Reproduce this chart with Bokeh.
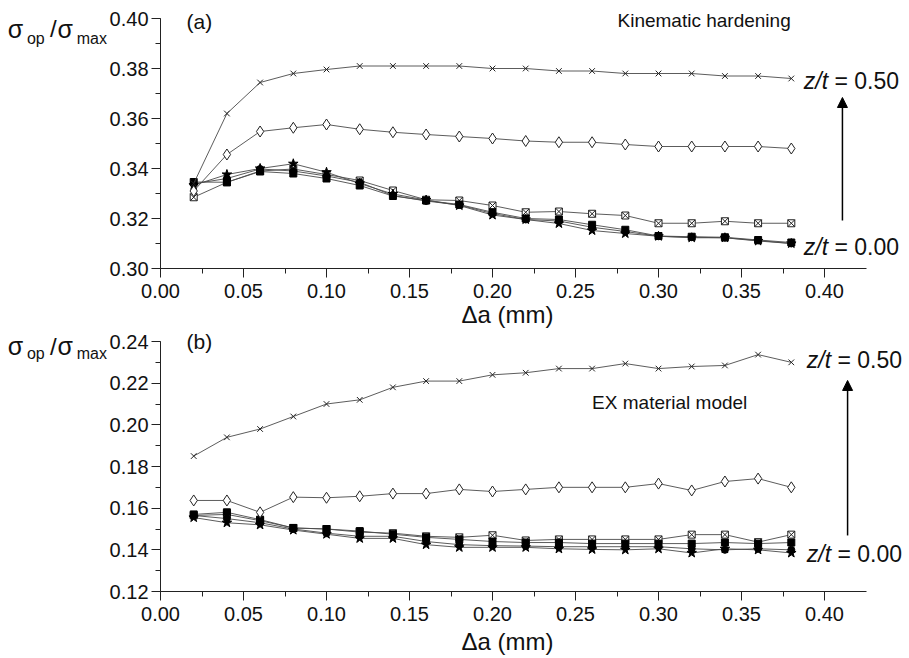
from bokeh.plotting import figure
from bokeh.models import (Range1d, Label, Arrow, NormalHead, SingleIntervalTicker,
                          PrintfTickFormatter)
from bokeh.layouts import column
from bokeh.embed import file_html
from bokeh.resources import INLINE

# ---------------- data ----------------
da = [0.02, 0.04, 0.06, 0.08, 0.10, 0.12, 0.14, 0.16, 0.18, 0.20,
      0.22, 0.24, 0.26, 0.28, 0.30, 0.32, 0.34, 0.36, 0.38]

# (a) Kinematic hardening
a_zt000 = [0.3346, 0.3345, 0.3388, 0.3380, 0.3360, 0.3332, 0.3290, 0.3272, 0.3256, 0.3225,
           0.3200, 0.3196, 0.3175, 0.3155, 0.3130, 0.3127, 0.3125, 0.3114, 0.3104]
a_zt010 = [0.3339, 0.3360, 0.3398, 0.3390, 0.3370, 0.3345, 0.3292, 0.3270, 0.3254, 0.3220,
           0.3196, 0.3190, 0.3165, 0.3148, 0.3129, 0.3125, 0.3123, 0.3112, 0.3100]
a_zt020 = [0.3333, 0.3376, 0.3400, 0.3419, 0.3385, 0.3340, 0.3298, 0.3274, 0.3252, 0.3214,
           0.3196, 0.3180, 0.3152, 0.3140, 0.3129, 0.3123, 0.3123, 0.3110, 0.3100]
a_zt030 = [0.3285, 0.3345, 0.3390, 0.3398, 0.3376, 0.3352, 0.3312, 0.3275, 0.3272, 0.3252,
           0.3225, 0.3228, 0.3219, 0.3212, 0.3181, 0.3181, 0.3189, 0.3181, 0.3181]
a_zt040 = [0.3310, 0.3456, 0.3548, 0.3563, 0.3576, 0.3557, 0.3545, 0.3536, 0.3528, 0.3520,
           0.3510, 0.3505, 0.3505, 0.3496, 0.3488, 0.3488, 0.3488, 0.3488, 0.3480]
a_zt050 = [0.3340, 0.3620, 0.3744, 0.3780, 0.3796, 0.3810, 0.3810, 0.3810, 0.3810, 0.3800,
           0.3800, 0.3790, 0.3790, 0.3780, 0.3780, 0.3780, 0.3770, 0.3770, 0.3760]

# (b) EX material model
b_zt000 = [0.1570, 0.1580, 0.1545, 0.1505, 0.1500, 0.1490, 0.1475, 0.1460, 0.1450, 0.1440,
           0.1435, 0.1435, 0.1430, 0.1430, 0.1430, 0.1430, 0.1435, 0.1430, 0.1435]
b_zt010 = [0.1565, 0.1550, 0.1530, 0.1500, 0.1480, 0.1465, 0.1465, 0.1440, 0.1425, 0.1420,
           0.1418, 0.1415, 0.1415, 0.1415, 0.1415, 0.1405, 0.1400, 0.1405, 0.1400]
b_zt020 = [0.1555, 0.1530, 0.1520, 0.1495, 0.1475, 0.1455, 0.1455, 0.1425, 0.1412, 0.1412,
           0.1412, 0.1405, 0.1402, 0.1400, 0.1405, 0.1385, 0.1405, 0.1400, 0.1385]
b_zt030 = [0.1565, 0.1570, 0.1540, 0.1505, 0.1500, 0.1485, 0.1480, 0.1465, 0.1460, 0.1470,
           0.1445, 0.1450, 0.1450, 0.1450, 0.1450, 0.1473, 0.1473, 0.1437, 0.1473]
b_zt040 = [0.1637, 0.1637, 0.1580, 0.1653, 0.1650, 0.1657, 0.1670, 0.1670, 0.1690, 0.1680,
           0.1690, 0.1700, 0.1700, 0.1700, 0.1718, 0.1685, 0.1728, 0.1742, 0.1700]
b_zt050 = [0.1850, 0.1940, 0.1980, 0.2040, 0.2100, 0.2120, 0.2180, 0.2210, 0.2210, 0.2240,
           0.2250, 0.2270, 0.2270, 0.2294, 0.2270, 0.2280, 0.2285, 0.2337, 0.2300]

x_ticks_step = 0.05
y_ticks_step = 0.02

# ---------------- styles ----------------
FONT = "Liberation Sans"
LINE_COLOR = "#4a4a4a"
styles = [
    dict(marker="square_x", size=7, fill_color="white", line_color="#222222"),
    dict(marker="star", size=10, fill_color="black", line_color="black"),
    dict(marker="circle", size=7, fill_color="black", line_color="black"),
    dict(marker="square", size=7, fill_color="black", line_color="black"),
    dict(marker="diamond", size=11, fill_color="white", line_color="#222222"),
    dict(marker="x", size=8, fill_color=None, line_color="#222222"),
]


def make_panel(height, y_lo, y_top, y0, y_end, series):
    p = figure(width=909, height=height,
               x_range=Range1d(-0.09639, 0.4512), y_range=Range1d(y_lo, y_top),
               output_backend="svg", toolbar_location=None,
               min_border_left=0, min_border_right=0, min_border_top=0,
               min_border_bottom=0)
    p.outline_line_color = None
    p.grid.visible = False
    p.background_fill_color = "white"
    p.border_fill_color = "white"

    p.xaxis.ticker = SingleIntervalTicker(interval=x_ticks_step, num_minor_ticks=2)
    p.yaxis.ticker = SingleIntervalTicker(interval=y_ticks_step, num_minor_ticks=2)
    p.xaxis.formatter = PrintfTickFormatter(format="%.2f")
    p.yaxis.formatter = PrintfTickFormatter(format="%.2f")
    p.xaxis.bounds = (0, 0.425)
    p.yaxis.bounds = (y0, y_end)
    p.xaxis.fixed_location = y0
    p.yaxis.fixed_location = 0
    for ax in (p.xaxis, p.yaxis):
        ax.axis_line_color = "#222222"
        ax.axis_line_width = 1
        ax.major_tick_line_color = "#222222"
        ax.minor_tick_line_color = "#222222"
        ax.major_tick_in = 0
        ax.major_tick_out = 9
        ax.minor_tick_in = 0
        ax.minor_tick_out = 5
        ax.major_label_text_font = FONT
        ax.major_label_text_font_size = "20px"
        ax.major_label_text_color = "#111111"
    p.xaxis.major_label_standoff = 6
    p.yaxis.major_label_standoff = 3

    for ys, st in zip(series, styles):
        p.line(da, ys, line_color=LINE_COLOR, line_width=0.9)
        p.scatter(da, ys, marker=st["marker"], size=st["size"],
                  fill_color=st["fill_color"], line_color=st["line_color"], line_width=1)
    return p


def add_text(p, x, y, text, size, style="normal", align="left"):
    p.add_layout(Label(x=x, y=y, text=text, text_font=FONT, text_font_size=size,
                       text_font_style=style, text_baseline="middle",
                       text_align=align, text_color="#111111"))


def add_ylabel(p, y_sigma, y_sub):
    add_text(p, -0.0920, y_sigma, "σ", "25px")
    add_text(p, -0.0805, y_sub, "op", "16px")
    add_text(p, -0.0665, y_sigma, "/", "24px")
    add_text(p, -0.0620, y_sigma, "σ", "25px")
    add_text(p, -0.0505, y_sub, "max", "16px")


def add_zt(p, y, xs, val):
    add_text(p, xs, y, "z/t", "23px", style="italic")
    add_text(p, xs + 0.0185, y, "= " + val, "23px")


# ---------------- top panel ----------------
pa = make_panel(330, 0.2752, 0.4072, 0.30, 0.40,
                [a_zt030, a_zt020, a_zt010, a_zt000, a_zt040, a_zt050])
add_ylabel(pa, 0.3960, 0.3922)
add_text(pa, 0.0157, 0.3988, "(a)", "21px")
add_text(pa, 0.2753, 0.3992, "Kinematic hardening", "19px")
add_zt(pa, 0.3752, 0.3875, "0.50")
add_zt(pa, 0.3088, 0.3875, "0.00")
pa.add_layout(Arrow(end=NormalHead(size=10, fill_color="black", line_color="black"),
                    x_start=0.4108, y_start=0.3192, x_end=0.4108, y_end=0.3684,
                    line_width=1.5, line_color="black"))
add_text(pa, 0.209, 0.2816, "Δa (mm)", "24px", align="center")

# ---------------- bottom panel ----------------
pb = make_panel(328, 0.08784, 0.24528, 0.12, 0.24,
                [b_zt030, b_zt020, b_zt010, b_zt000, b_zt040, b_zt050])
add_ylabel(pb, 0.2378, 0.2342)
add_text(pb, 0.0157, 0.2400, "(b)", "21px")
add_text(pb, 0.2600, 0.2107, "EX material model", "19px")
add_zt(pb, 0.2309, 0.3893, "0.50")
add_zt(pb, 0.1382, 0.3893, "0.00")
pb.add_layout(Arrow(end=NormalHead(size=10, fill_color="black", line_color="black"),
                    x_start=0.4139, y_start=0.1469, x_end=0.4139, y_end=0.2213,
                    line_width=1.5, line_color="black"))
add_text(pb, 0.209, 0.0960, "Δa (mm)", "24px", align="center")

layout = column(pa, pb, spacing=0)
open("out.html", "w").write(file_html(layout, INLINE))
